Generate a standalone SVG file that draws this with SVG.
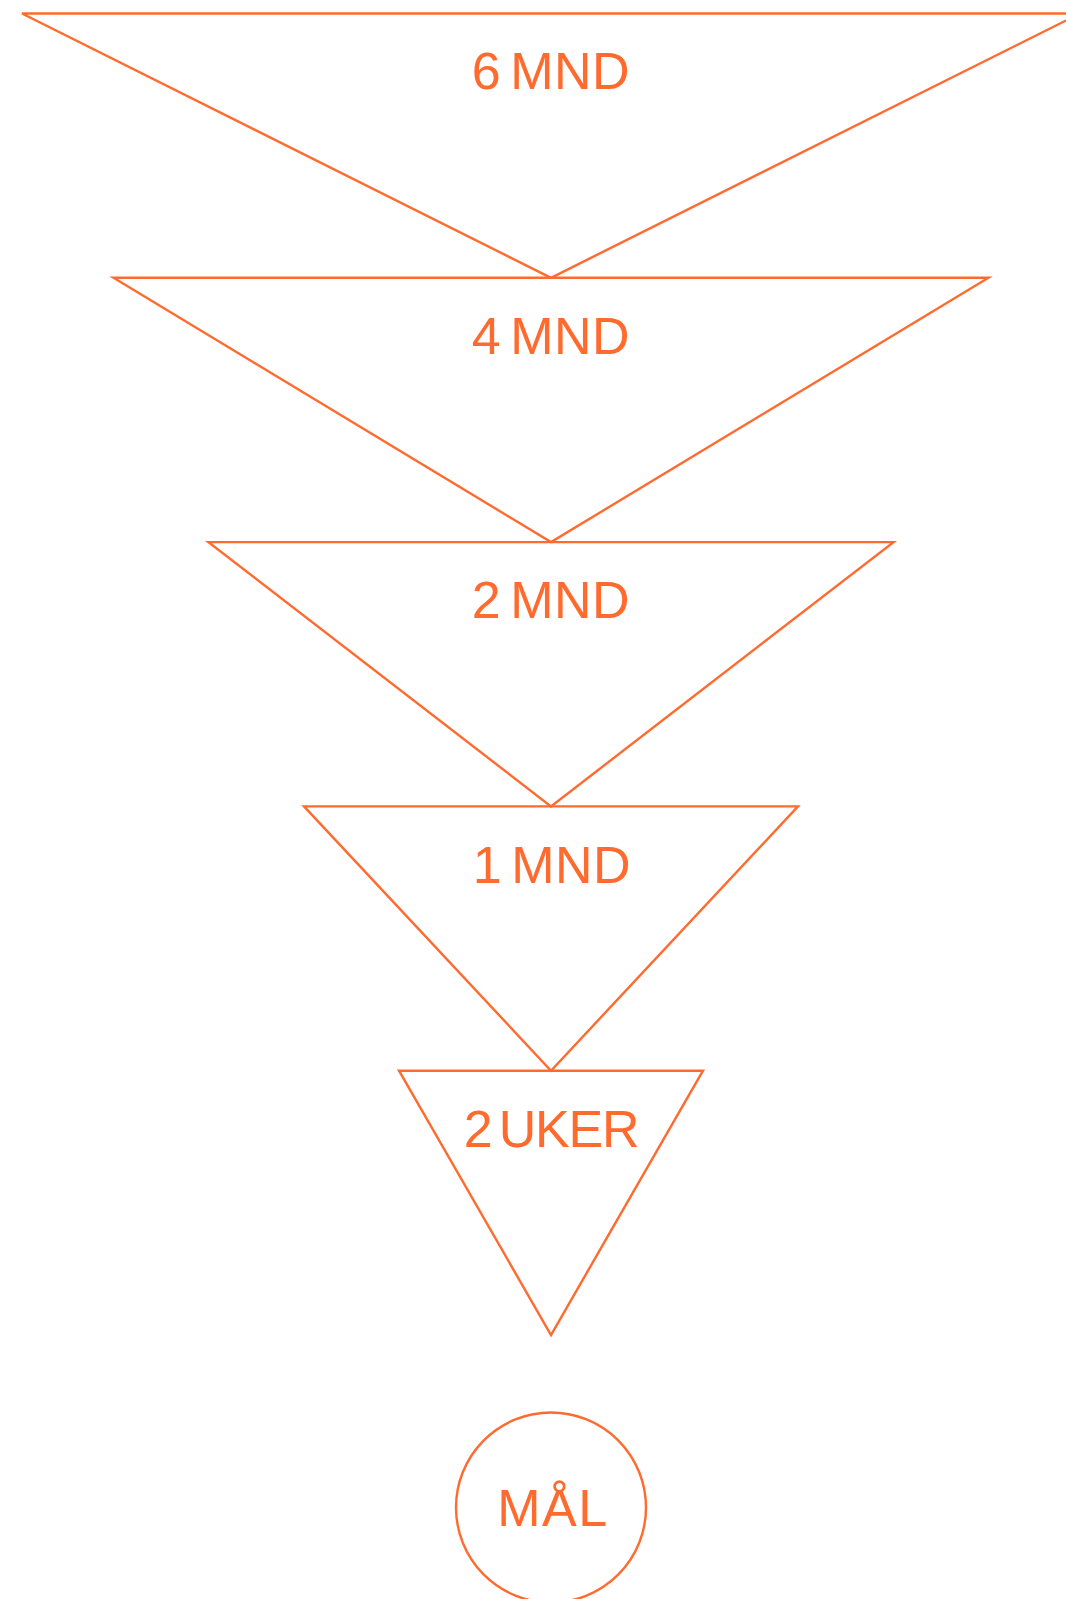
<svg xmlns="http://www.w3.org/2000/svg" width="1066" height="1599" viewBox="0 0 1066 1599">
<style>
.s{fill:none;stroke:#FF6B2E;stroke-width:2.4;stroke-linejoin:miter}
.t{font-family:"Liberation Sans",Arial,sans-serif;font-size:52px;fill:#FF6B2E;text-anchor:middle;word-spacing:-6px}
</style>
<rect width="1066" height="1599" fill="#fff"/>
<g id="connectors"></g>
<g id="n6mnd"><polygon class="s" points="22,13.5 1080,13.5 551,277.8"/><text class="t" x="551" y="88.5" letter-spacing="0.5">6 MND</text></g>
<g id="n4mnd"><polygon class="s" points="113.5,277.8 988.5,277.8 551,542.1"/><text class="t" x="551" y="353.5" letter-spacing="0.5">4 MND</text></g>
<g id="n2mnd"><polygon class="s" points="208.5,542.1 893.5,542.1 551,806.4"/><text class="t" x="551" y="618" letter-spacing="0.5">2 MND</text></g>
<g id="n1mnd"><polygon class="s" points="304,806.4 798,806.4 551,1070.7"/><text class="t" x="552" y="882.5" letter-spacing="0.5">1 MND</text></g>
<g id="n2uker"><polygon class="s" points="399,1070.7 703,1070.7 551,1335"/><text class="t" x="551" y="1147" letter-spacing="-1.2">2 UKER</text></g>
<g id="nmaal"><circle class="s" cx="551" cy="1507.5" r="95"/><text class="t" x="553" y="1526" letter-spacing="1.5">MÅL</text></g>
</svg>
